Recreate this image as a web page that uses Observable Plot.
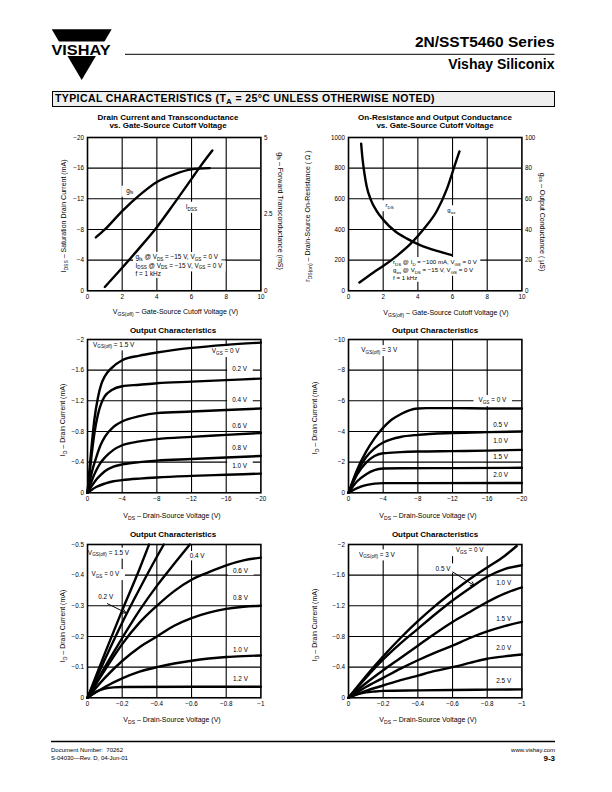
<!DOCTYPE html>
<html><head><meta charset="utf-8">
<script src="https://cdn.jsdelivr.net/npm/d3@7"></script>
<script src="https://cdn.jsdelivr.net/npm/@observablehq/plot@0.6"></script>
<style>
body{margin:0;background:#fff;}
#page{position:relative;width:612px;height:792px;overflow:hidden;font-family:"Liberation Sans",Arial,Helvetica,sans-serif;color:#000;background:#fff;}
#page div{position:absolute;white-space:nowrap;}
sub{font-size:72%;vertical-align:-0.3em;line-height:0;}
.ctitle{font-weight:bold;font-size:8px;line-height:9px;transform:translateX(-50%);}
.axt{font-size:7px;line-height:8px;}
</style></head><body><div id="page"></div>
<script>
// ---------------- DATA ----------------
// Chart 1: Drain Current and Transconductance vs. VGS(off)
const c1XTicks = [0, 2, 4, 6, 8, 10];
const c1YTicks = [0, -4, -8, -12, -16, -20];      // IDSS (mA)
const c1RightTicks = [0, 2.5, 5];                  // gfs (mS)
const c1Idss = [[1.0,-0.5],[2,-3.0],[3,-5.6],[4,-8.3],[5,-11.4],[6,-14.6],[6.5,-16.2],[7.2,-18.3]];
const c1Gfs  = [[0.48,1.74],[1,2.0],[2,2.6],[3,3.12],[4,3.55],[5,3.8],[6,3.96],[7.05,4.0]];

// Chart 2: On-Resistance and Output Conductance vs. VGS(off)
const c2XTicks = [0, 2, 4, 6, 8, 10];
const c2YTicks = [0, 200, 400, 600, 800, 1000];    // rDS (ohm)
const c2RightTicks = [0, 20, 40, 60, 80, 100];     // gos (uS)
const c2Rds = [[0.73,960],[0.8,870],[0.9,780],[1.05,680],[1.3,590],[1.6,525],[2.02,461],[2.69,388],[3.37,340],[4.13,298],[5.1,260],[5.96,233]];
const c2Gos = [[0.63,5.4],[1.44,12],[2.02,16.3],[2.79,22.8],[3.56,30.4],[4.33,40.2],[5.1,52.2],[5.67,66.3],[6.15,82.6],[6.4,90.9]];

// Chart 3: Output Characteristics, VGS(off) = 1.5 V, VDS 0..-20 V
const c3XTicks = [0, -4, -8, -12, -16, -20];
const c3YTicks = [0, -0.4, -0.8, -1.2, -1.6, -2];
const c3Vgs00 = [[0,0],[-0.4,-0.52],[-0.8,-0.96],[-1.2,-1.24],[-1.6,-1.42],[-2,-1.52],[-2.8,-1.63],[-4,-1.73],[-6,-1.79],[-8,-1.83],[-12,-1.89],[-16,-1.93],[-20,-1.96]];
const c3Vgs02 = [[0,0],[-0.4,-0.42],[-0.8,-0.78],[-1.2,-1.02],[-1.6,-1.17],[-2,-1.26],[-2.8,-1.34],[-4,-1.39],[-6,-1.41],[-8,-1.43],[-12,-1.45],[-16,-1.47],[-20,-1.49]];
const c3Vgs04 = [[0,0],[-0.5,-0.27],[-1,-0.46],[-1.5,-0.62],[-2,-0.73],[-3,-0.86],[-4,-0.93],[-6,-1.0],[-8,-1.04],[-12,-1.06],[-16,-1.08],[-20,-1.10]];
const c3Vgs06 = [[0,0],[-0.5,-0.16],[-1,-0.29],[-1.5,-0.39],[-2,-0.46],[-3,-0.56],[-4,-0.62],[-6,-0.67],[-8,-0.70],[-12,-0.73],[-16,-0.755],[-20,-0.78]];
const c3Vgs08 = [[0,0],[-0.5,-0.09],[-1,-0.17],[-1.5,-0.23],[-2,-0.28],[-3,-0.34],[-4,-0.37],[-6,-0.40],[-8,-0.42],[-12,-0.44],[-16,-0.46],[-20,-0.48]];
const c3Vgs10 = [[0,0],[-0.5,-0.04],[-1,-0.075],[-2,-0.12],[-3,-0.15],[-4,-0.165],[-6,-0.185],[-8,-0.20],[-12,-0.22],[-16,-0.235],[-20,-0.25]];

// Chart 4: Output Characteristics, VGS(off) = 3 V, VDS 0..-20 V
const c4XTicks = [0, -4, -8, -12, -16, -20];
const c4YTicks = [0, -2, -4, -6, -8, -10];
const c4Vgs00 = [[0,0],[-1,-1.5],[-2,-2.65],[-3,-3.55],[-4,-4.25],[-5,-4.78],[-6,-5.12],[-7,-5.38],[-8,-5.5],[-9,-5.52],[-12,-5.52],[-16,-5.5],[-20,-5.5]];
const c4Vgs05 = [[0,0],[-1,-1.35],[-2,-2.3],[-3,-2.9],[-4,-3.28],[-5,-3.5],[-6,-3.64],[-8,-3.78],[-12,-3.9],[-16,-3.96],[-20,-4.0]];
const c4Vgs10 = [[0,0],[-1,-1.2],[-2,-1.95],[-3,-2.4],[-4,-2.58],[-6,-2.65],[-8,-2.69],[-12,-2.72],[-16,-2.75],[-20,-2.8]];
const c4Vgs15 = [[0,0],[-1,-0.75],[-2,-1.2],[-3,-1.48],[-4,-1.58],[-6,-1.6],[-12,-1.61],[-20,-1.63]];
const c4Vgs20 = [[0,0],[-1,-0.3],[-2,-0.5],[-3,-0.6],[-4,-0.63],[-8,-0.63],[-20,-0.64]];

// Chart 5: Output Characteristics, VGS(off) = 1.5 V, VDS 0..-1 V
const c5XTicks = [0, -0.2, -0.4, -0.6, -0.8, -1];
const c5YTicks = [0, -0.1, -0.2, -0.3, -0.4, -0.5];
const c5Vgs00 = [[0,0],[-0.1,-0.145],[-0.2,-0.285],[-0.3,-0.42],[-0.355,-0.5]];
const c5Vgs02 = [[0,0],[-0.1,-0.125],[-0.2,-0.245],[-0.3,-0.355],[-0.4,-0.46],[-0.44,-0.5]];
const c5Vgs04 = [[0,0],[-0.1,-0.1],[-0.2,-0.195],[-0.3,-0.285],[-0.4,-0.365],[-0.5,-0.437],[-0.59,-0.5]];
const c5Vgs06 = [[0,0],[-0.1,-0.09],[-0.2,-0.175],[-0.3,-0.245],[-0.4,-0.3],[-0.5,-0.348],[-0.6,-0.385],[-0.7,-0.41],[-0.8,-0.432],[-0.9,-0.448],[-1,-0.457]];
const c5Vgs08 = [[0,0],[-0.1,-0.065],[-0.2,-0.12],[-0.3,-0.165],[-0.4,-0.2],[-0.5,-0.235],[-0.6,-0.26],[-0.7,-0.278],[-0.8,-0.29],[-0.9,-0.297],[-1,-0.3]];
const c5Vgs10 = [[0,0],[-0.1,-0.035],[-0.2,-0.063],[-0.3,-0.085],[-0.4,-0.1],[-0.5,-0.112],[-0.6,-0.121],[-0.7,-0.128],[-0.8,-0.133],[-0.9,-0.136],[-1,-0.138]];
const c5Vgs12 = [[0,0],[-0.05,-0.02],[-0.1,-0.03],[-0.15,-0.034],[-0.2,-0.035],[-0.6,-0.036],[-1,-0.036]];

// Chart 6: Output Characteristics, VGS(off) = 3 V, VDS 0..-1 V
const c6XTicks = [0, -0.2, -0.4, -0.6, -0.8, -1];
const c6YTicks = [0, -0.4, -0.8, -1.2, -1.6, -2];
const c6Vgs00 = [[0,0],[-0.1,-0.28],[-0.2,-0.54],[-0.3,-0.78],[-0.4,-1.0],[-0.5,-1.2],[-0.6,-1.38],[-0.7,-1.55],[-0.8,-1.70],[-0.9,-1.85],[-0.97,-1.98]];
const c6Vgs05 = [[0,0],[-0.1,-0.26],[-0.2,-0.5],[-0.3,-0.71],[-0.4,-0.9],[-0.5,-1.09],[-0.6,-1.27],[-0.7,-1.43],[-0.8,-1.58],[-0.9,-1.68],[-1,-1.73]];
const c6Vgs10 = [[0,0],[-0.1,-0.19],[-0.2,-0.36],[-0.3,-0.52],[-0.4,-0.68],[-0.5,-0.84],[-0.6,-0.99],[-0.7,-1.12],[-0.8,-1.25],[-0.9,-1.36],[-1,-1.44]];
const c6Vgs15 = [[0,0],[-0.1,-0.14],[-0.2,-0.26],[-0.3,-0.38],[-0.4,-0.49],[-0.5,-0.59],[-0.6,-0.68],[-0.7,-0.78],[-0.8,-0.865],[-0.9,-0.935],[-1,-0.99]];
const c6Vgs20 = [[0,0],[-0.1,-0.09],[-0.2,-0.16],[-0.3,-0.23],[-0.4,-0.29],[-0.5,-0.35],[-0.6,-0.40],[-0.7,-0.455],[-0.8,-0.51],[-0.9,-0.54],[-1,-0.565]];
const c6Vgs25 = [[0,0],[-0.05,-0.045],[-0.1,-0.07],[-0.15,-0.082],[-0.2,-0.09],[-0.4,-0.097],[-0.6,-0.102],[-0.8,-0.106],[-1,-0.11]];

// Annotations (data units): [x, y, text, anchor]
const c1Labels = [[2.47,-13,"g_{fs}","middle"],[6.02,-10.9,"I_{DSS}","middle"],
  [2.8,-4.35,"g_{fs} @ V_{DS} = \u221215 V, V_{GS} = 0 V","start"],
  [2.8,-3.25,"I_{DSS} @ V_{DS} = \u221215 V, V_{GS} = 0 V","start"],
  [2.8,-2.2,"f = 1 kHz","start"]];
const c2Labels = [[2.4,554,"r_{DS}","middle"],[5.96,522,"g_{os}","middle"],
  [2.6,184,"r_{DS} @ I_{D} = \u2212100 mA, V_{GS} = 0 V","start"],
  [2.6,133,"g_{os} @ V_{DS} = \u221215 V, V_{GS} = 0 V","start"],
  [2.6,84,"f = 1 kHz","start"]];
const c3Labels = [[-0.7,-1.93,"V_{GS(off)} = 1.5 V","start"],[-16.0,-1.843,"V_{GS} = 0 V","middle"],
  [-17.6,-1.61,"0.2 V","middle"],[-17.6,-1.204,"0.4 V","middle"],[-17.6,-0.87,"0.6 V","middle"],
  [-17.6,-0.583,"0.8 V","middle"],[-17.6,-0.343,"1.0 V","middle"]];
const c4Labels = [[-1.54,-9.28,"V_{GS(off)} = 3 V","start"],[-16.65,-6.02,"V_{GS} = 0 V","middle"],
  [-17.6,-4.39,"0.5 V","middle"],[-17.6,-3.37,"1.0 V","middle"],[-17.6,-2.33,"1.5 V","middle"],[-17.6,-1.13,"2.0 V","middle"]];
const c5Labels = [[-0.005,-0.472,"V_{GS(off)} = 1.5 V","start"],[-0.106,-0.402,"V_{GS} = 0 V","middle"],
  [-0.108,-0.328,"0.2 V","middle"],[-0.635,-0.461,"0.4 V","middle"],[-0.885,-0.413,"0.6 V","middle"],
  [-0.885,-0.326,"0.8 V","middle"],[-0.885,-0.154,"1.0 V","middle"],[-0.885,-0.06,"1.2 V","middle"]];
const c6Labels = [[-0.167,-1.865,"V_{GS(off)} = 3 V","middle"],[-0.702,-1.92,"V_{GS} = 0 V","middle"],
  [-0.548,-1.683,"0.5 V","middle"],[-0.898,-1.496,"1.0 V","middle"],[-0.898,-1.03,"1.5 V","middle"],
  [-0.898,-0.64,"2.0 V","middle"],[-0.898,-0.217,"2.5 V","middle"]];
const c5Arrows = [{x1:-0.115,y1:-0.307,x2:-0.222,y2:-0.277}];
const c6Arrows = [{x1:-0.602,y1:-1.64,x2:-0.725,y2:-1.465}];

// ---------------- RENDER ----------------
const FONT = '"Liberation Sans", Arial, Helvetica, sans-serif';
const page = document.getElementById("page");
function div(css, html, cls) { const e = document.createElement("div"); e.style.cssText = css; if (cls) e.className = cls; e.innerHTML = html; page.appendChild(e); return e; }
const sub = s => s.replace(/_\{([^}]*)\}/g, "<sub>$1</sub>");
const fmt = v => v === 0 ? "0" : (v < 0 ? "\u2212" : "") + (+Math.abs(v).toFixed(3));

function svgText(parent, x, y, str, size, anchor) {
  const t = parent.append("text").attr("x", x).attr("y", y).attr("text-anchor", anchor)
    .attr("font-size", size).attr("fill", "#000").attr("font-family", FONT);
  const parts = str.split(/(_\{[^}]*\})/).filter(s => s.length);
  let low = false;
  for (const p of parts) {
    const m = p.match(/^_\{(.*)\}$/);
    if (m) { t.append("tspan").attr("font-size", size * 0.72).attr("dy", size * 0.25).text(m[1]); low = true; }
    else { const ts = t.append("tspan").text(p); if (low) { ts.attr("dy", -size * 0.25); low = false; } }
  }
  return t;
}

function makeChart(cfg) {
  const ML = 40, MR = 30, MT = 10, MB = 20, PW = 173.4, PH = 153.3;
  const line = { stroke: "#000", strokeOpacity: 1, strokeWidth: 1.1 };
  const axisOpt = { tickSize: 0, label: null, tickFormat: fmt, fontSize: 6.3 };
  const marks = [
    Plot.gridX(cfg.xTicks.slice(1, -1), line),
    Plot.gridY(cfg.yTicks.slice(1, -1), line),
    Plot.axisX(cfg.xTicks, { ...axisOpt, tickPadding: 4 }),
    Plot.axisY(cfg.yTicks, { ...axisOpt, anchor: "left", tickPadding: 3.5 })
  ];
  if (cfg.right) marks.push(Plot.axisY(cfg.right.ticks.map(cfg.right.toLeft), { ...axisOpt, anchor: "right", tickPadding: 3, tickFormat: cfg.right.format }));
  for (const s of cfg.series) marks.push(Plot.line(s.data, { x: d => d[0], y: s.y || (d => d[1]), stroke: "#000", strokeWidth: 2.4, curve: "monotone-x" }));
  if (cfg.arrows) marks.push(Plot.arrow(cfg.arrows, { x1: "x1", y1: "y1", x2: "x2", y2: "y2", stroke: "#000", strokeWidth: 1, headLength: 6 }));
  marks.push(Plot.frame({ stroke: "#000", strokeWidth: 1.6 }));
  const svg = Plot.plot({
    width: PW + ML + MR, height: PH + MT + MB,
    marginLeft: ML, marginRight: MR, marginTop: MT, marginBottom: MB,
    x: { domain: cfg.xDomain }, y: { domain: cfg.yDomain },
    style: { fontFamily: FONT, color: "#000", background: "transparent", overflow: "visible", position: "absolute", left: (cfg.left - ML) + "px", top: (cfg.top - MT) + "px" },
    marks
  });
  page.appendChild(svg);
  const sx = svg.scale("x"), sy = svg.scale("y");
  const sel = d3.select(svg);
  const firstLine = svg.querySelector('g[aria-label="line"]');
  const bgG = d3.select(svg.insertBefore(document.createElementNS("http://www.w3.org/2000/svg", "g"), firstLine));
  const txG = sel.append("g");
  const size = cfg.labelSize || 6.4;
  for (const [x, y, t, a] of cfg.labels) {
    const txt = svgText(txG, sx.apply(x), sy.apply(y) + size * 0.35, t, size, a);
    const bb = txt.node().getBBox();
    const px = a === "middle" ? 5 : 2.5;
    bgG.append("rect").attr("x", bb.x - px).attr("y", bb.y - 1.2).attr("width", bb.width + 2 * px).attr("height", bb.height + 2.4).attr("fill", "#fff");
  }
  return svg;
}

const L = 86.7, R = 348.3;
makeChart({ left: L, top: 136.7, xDomain: [0, 10], yDomain: [0, -20], xTicks: c1XTicks, yTicks: c1YTicks,
  right: { ticks: c1RightTicks, toLeft: g => -4 * g, format: v => String(-v / 4) },
  series: [{ data: c1Idss }, { data: c1Gfs, y: d => -4 * d[1] }], labels: c1Labels });
makeChart({ left: R, top: 136.7, xDomain: [0, 10], yDomain: [0, 1000], xTicks: c2XTicks, yTicks: c2YTicks,
  right: { ticks: c2RightTicks, toLeft: g => 10 * g, format: v => String(v / 10) },
  series: [{ data: c2Rds }, { data: c2Gos, y: d => 10 * d[1] }], labels: c2Labels, labelSize: 6.1 });
makeChart({ left: L, top: 339, xDomain: [0, -20], yDomain: [0, -2], xTicks: c3XTicks, yTicks: c3YTicks,
  series: [c3Vgs00, c3Vgs02, c3Vgs04, c3Vgs06, c3Vgs08, c3Vgs10].map(data => ({ data })), labels: c3Labels });
makeChart({ left: R, top: 339, xDomain: [0, -20], yDomain: [0, -10], xTicks: c4XTicks, yTicks: c4YTicks,
  series: [c4Vgs00, c4Vgs05, c4Vgs10, c4Vgs15, c4Vgs20].map(data => ({ data })), labels: c4Labels });
makeChart({ left: L, top: 544, xDomain: [0, -1], yDomain: [0, -0.5], xTicks: c5XTicks, yTicks: c5YTicks,
  series: [c5Vgs00, c5Vgs02, c5Vgs04, c5Vgs06, c5Vgs08, c5Vgs10, c5Vgs12].map(data => ({ data })), labels: c5Labels, arrows: c5Arrows });
makeChart({ left: R, top: 544, xDomain: [0, -1], yDomain: [0, -2], xTicks: c6XTicks, yTicks: c6YTicks,
  series: [c6Vgs00, c6Vgs05, c6Vgs10, c6Vgs15, c6Vgs20, c6Vgs25].map(data => ({ data })), labels: c6Labels, arrows: c6Arrows });

// chart titles
const titles = [[168, 112.5, "Drain Current and Transconductance"], [168, 121, "vs. Gate-Source Cutoff Voltage"],
  [435, 112.5, "On-Resistance and Output Conductance"], [435, 121, "vs. Gate-Source Cutoff Voltage"],
  [173, 325.5, "Output Characteristics"], [435, 325.5, "Output Characteristics"],
  [173, 529.5, "Output Characteristics"], [435, 529.5, "Output Characteristics"]];
for (const [x, y, t] of titles) div(`left:${x}px;top:${y}px;`, t, "ctitle");

// axis titles: [cx, cy, text, rotation]
const axTitles = [
  [175.5, 312, "V_{GS(off)} \u2013 Gate-Source Cutoff Voltage (V)", 0],
  [446, 312.5, "V_{GS(off)} \u2013 Gate-Source Cutoff Voltage (V)", 0],
  [172, 515.5, "V_{DS} \u2013 Drain-Source Voltage (V)", 0],
  [428, 515.5, "V_{DS} \u2013 Drain-Source Voltage (V)", 0],
  [172, 720, "V_{DS} \u2013 Drain-Source Voltage (V)", 0],
  [428, 720, "V_{DS} \u2013 Drain-Source Voltage (V)", 0],
  [63.5, 216, "I_{DSS} \u2013 Saturation Drain Current (mA)", -90],
  [280, 211, "g_{fs} \u2013 Forward Transconductance (mS)", 90],
  [307.5, 216, "r_{DS(on)} \u2013 Drain-Source On-Resistance ( \u03A9 )", -90],
  [542, 222, "g_{os} \u2013 Output Conductance ( \u00B5S)", 90],
  [63, 420, "I_{D} \u2013 Drain Current (mA)", -90],
  [315, 418, "I_{D} \u2013 Drain Current (mA)", -90],
  [63, 626, "I_{D} \u2013 Drain Current (mA)", -90],
  [315, 625, "I_{D} \u2013 Drain Current (mA)", -90]];
for (const [x, y, t, r] of axTitles) div(`left:${x}px;top:${y}px;transform:translate(-50%,-50%) rotate(${r}deg);`, sub(t), "axt");

// header
const deco = d3.select(page).append("svg").attr("width", 612).attr("height", 792)
  .style("position", "absolute").style("left", "0").style("top", "0").style("pointer-events", "none");
deco.append("polygon").attr("points", "51.7,29.3 111.7,29.3 81.7,80").attr("fill", "#000");
deco.append("rect").attr("x", 45).attr("y", 41.5).attr("width", 72).attr("height", 14.5).attr("fill", "#fff");
deco.append("text").attr("x", 51.5).attr("y", 55).attr("font-family", FONT).attr("font-weight", "bold")
  .attr("font-size", 15.5).attr("textLength", 59).attr("lengthAdjust", "spacingAndGlyphs").text("VISHAY");
deco.append("line").attr("x1", 125).attr("x2", 554.5).attr("y1", 54.3).attr("y2", 54.3).attr("stroke", "#000").attr("stroke-width", 1);
deco.append("line").attr("x1", 51).attr("x2", 555).attr("y1", 741.5).attr("y2", 741.5).attr("stroke", "#000").attr("stroke-width", 1.5);

div("right:57.5px;top:33px;font-weight:bold;font-size:15.5px;line-height:18px;", "2N/SST5460 Series");
div("right:57.5px;top:55.5px;font-weight:bold;font-size:14px;line-height:16px;", "Vishay Siliconix");
div("left:52px;top:91px;width:503px;height:16px;box-sizing:border-box;border:1.3px solid #000;background:#efefef;font-weight:bold;font-size:10.5px;letter-spacing:0.4px;line-height:13.5px;padding-left:2px;",
  "TYPICAL CHARACTERISTICS (T<sub>A</sub> = 25\u00B0C UNLESS OTHERWISE NOTED)");

// footer
div("left:51px;top:745.5px;font-size:6px;line-height:8px;", "Document Number:&nbsp; 70262");
div("left:51px;top:754px;font-size:6px;line-height:8px;", "S-04030\u2014Rev. D, 04-Jun-01");
div("right:57px;top:745.5px;font-size:6px;line-height:8px;", "www.vishay.com");
div("right:57px;top:753.5px;font-size:8px;font-weight:bold;line-height:9px;", "9-3");
</script></body></html>
